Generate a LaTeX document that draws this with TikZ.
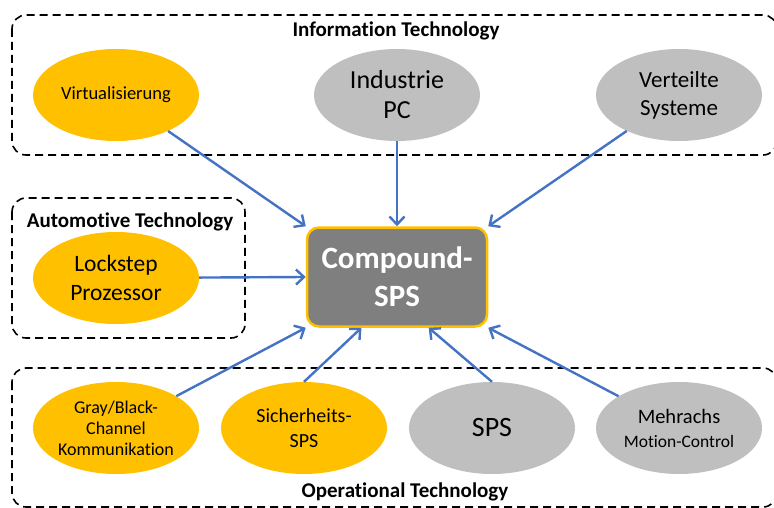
\documentclass[tikz,border=0pt]{standalone}
\usepackage{fontspec}
\setmainfont{Carlito}[Ligatures=NoCommon]
\usepackage{tikz}
\usetikzlibrary{arrows.meta, positioning, shapes.geometric, calc}
\definecolor{mOrange}{HTML}{FFC000}
\definecolor{mGray}{HTML}{BFBFBF}
\definecolor{mDark}{HTML}{7F7F7F}
\definecolor{mBlue}{HTML}{4472C4}

\begin{document}
\begin{tikzpicture}[x=1pt, y=-1pt,
    area/.style={draw, line width=1.6pt, rounded corners=14pt, dash pattern=on 8pt off 5pt},
    blob/.style={ellipse, minimum width=166pt, minimum height=92pt, inner sep=0pt, align=center},
    orangeblob/.style={blob, fill=mOrange},
    grayblob/.style={blob, fill=mGray},
    areatitle/.style={font=\bfseries\fontsize{21}{24}\selectfont},
    feed/.style={mBlue, line width=2.4pt, -{Straight Barb[length=8pt, width=15pt]}}]
    \useasboundingbox (0,0) rectangle (774,508);

    % domains
    \draw[area] (12,15) rectangle (777,155);
    \draw[area] (12,198) rectangle (245,338);
    \draw[area] (12,368) rectangle (777,507);
    \node[areatitle] (ittitle) at (396,31) {Information Technology};
    \node[areatitle] (attitle) at (130,222) {Automotive Technology};
    \node[areatitle] (ottitle) at (405,492) {Operational Technology};

    % centre
    \node[draw=mOrange, line width=2.5pt, fill=mDark, rounded corners=12pt,
          minimum width=180pt, minimum height=99pt, align=center, text=white,
          font=\bfseries\fontsize{31}{38}\selectfont] (cps) at (397,277) {Compound-\\SPS};

    % information technology
    \node[orangeblob, font=\fontsize{18.5}{22}\selectfont] (virt) at (116,95) {Virtualisierung};
    \node[grayblob, font=\fontsize{26}{30}\selectfont] (ipc) at (397,95) {Industrie\\PC};
    \node[grayblob, font=\fontsize{23}{28}\selectfont] (vsys) at (679,95) {Verteilte\\Systeme};

    % automotive technology
    \node[orangeblob, font=\fontsize{23.5}{29}\selectfont] (lock) at (116,278) {Lockstep\\Prozessor};

    % operational technology
    \node[orangeblob, font=\fontsize{18}{21}\selectfont] (chan) at (116,428) {Gray/Black-\\Channel\\Kommunikation};
    \node[orangeblob, font=\fontsize{20}{25}\selectfont] (safe) at (304,428) {Sicherheits-\\SPS};
    \node[grayblob, font=\fontsize{28}{30}\selectfont] (sps) at (492,428) {SPS};
    \node[grayblob, font=\fontsize{20.5}{24}\selectfont] (axis) at (679,428)
        {Mehrachs\\{\fontsize{17.5}{21}\selectfont Motion-Control}};

    % connections
    \draw[feed] (virt) -- (cps.north west);
    \draw[feed] (ipc) -- (cps.north);
    \draw[feed] (vsys) -- (cps.north east);
    \draw[feed] (lock) -- (cps.west);
    \draw[feed] (chan) -- (cps.south west);
    \draw[feed] (safe.north) -- (cps.235);
    \draw[feed] (sps.north) -- (cps.302);
    \draw[feed] (axis) -- (cps.south east);
  \end{tikzpicture}
\end{document}
